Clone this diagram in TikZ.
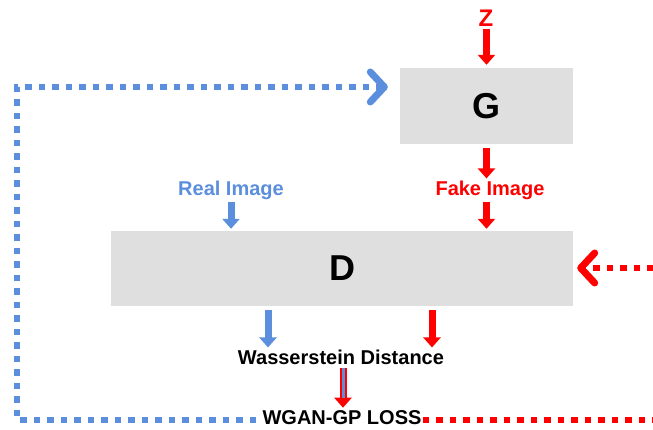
\documentclass[tikz,border=0pt]{standalone}
\usepackage{fontspec}
\setmainfont{Liberation Sans}
\usetikzlibrary{arrows.meta,calc}
\definecolor{gblue}{HTML}{5B8FDE}
\definecolor{gred}{HTML}{FF0000}
\definecolor{boxgray}{HTML}{DFDFDF}
\tikzset{
  box/.style={fill=boxgray, draw=none, font=\bfseries\fontsize{36}{40}\selectfont, inner sep=0pt},
  lbl/.style={font=\bfseries\fontsize{20}{22}\selectfont, inner sep=1pt},
  fat/.style={line width=7pt, -{Triangle[width=17pt,length=10pt]}},
  dots/.style={line width=6.5pt, dash pattern=on 6.5pt off 7pt},
  chev/.style={-{Straight Barb[length=14pt,width=30pt,line width=7pt,line cap=round,line join=round]}}
}
\begin{document}
\begin{tikzpicture}[x=1pt,y=-1pt]
\useasboundingbox (0,0) rectangle (653,430);
% boxes
\node[box, minimum width=173pt, minimum height=76pt] (G) at (486.5,106) {G};
\node[box, minimum width=462pt, minimum height=75pt] (D) at (342,268.5) {D};
% labels
\node[lbl, text=gred, font=\bfseries\fontsize{24}{26}\selectfont] (Z) at (486,18) {Z};
\node[lbl, text=gred] (F) at (490,190) {Fake Image};
\node[lbl, text=gblue] (R) at (231,190) {Real Image};
\node[lbl] (W) at (341,357) {Wasserstein Distance};
\node[lbl, inner sep=0pt] (L) at (342,418) {WGAN-GP LOSS};
% arrows
\draw[fat, gred, shorten <=2pt, shorten >=3pt] (Z.south -| G.north) -- (G.north);
\draw[fat, gred, shorten <=4pt, shorten >=1pt] (G.south) -- (G.south |- F.north);
\draw[fat, gred, shorten <=1pt, shorten >=2pt] (G.south |- F.south) -- (G.south |- D.north);
\draw[fat, gblue, shorten <=1pt, shorten >=2pt] (R.south) -- (R.south |- D.north);
\draw[fat, gblue, shorten <=4pt, shorten >=1pt] ($(D.south)+(-74,0)$) coordinate (db) -- (db |- W.north);
\draw[fat, gred, shorten <=4pt, shorten >=1pt] ($(D.south)+(90,0)$) coordinate (dr) -- (dr |- W.north);
\draw[fat, gred, shorten <=2pt, shorten >=3pt] ($(W.south)+(2,0)$) coordinate (wl) -- (wl |- L.north);
\draw[line width=3pt, gblue, shorten <=2pt, shorten >=13pt] (wl) -- (wl |- L.north);
% feedback loops
\coordinate (bl) at (17,420);
\coordinate (tl) at (17,87);
\draw[dots, chev, gblue, shorten >=12pt] ($(L.west)+(-6,2)$) -- (bl) -- (tl) -- (tl -| G.west);
\coordinate (br) at (658,420);
\coordinate (tr) at (658,268);
\draw[dots, chev, gred, shorten >=4pt] ($(L.east)+(1,2)$) -- (br) -- (tr) -- (tr -| D.east);
\end{tikzpicture}
\end{document}
